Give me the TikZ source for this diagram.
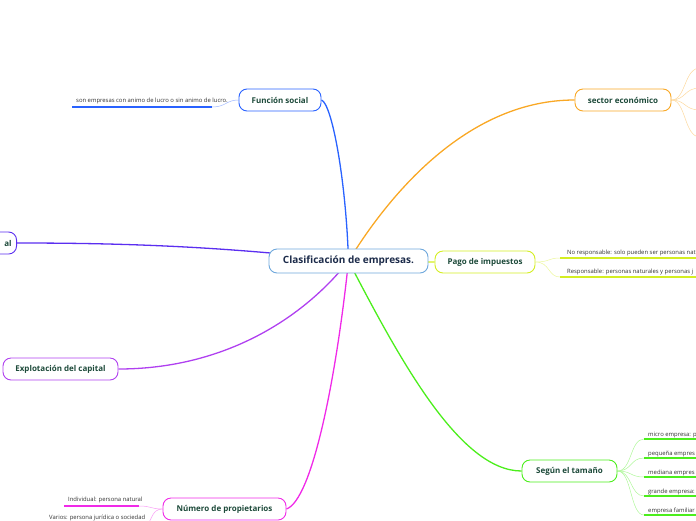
\documentclass[tikz,border=0pt]{standalone}
\usepackage{fontspec}
\setmainfont{Open Sans}
\usetikzlibrary{backgrounds}
\definecolor{ccentral}{HTML}{6FA8DC}
\definecolor{ctext}{HTML}{1C2B4A}
\definecolor{ntext}{HTML}{1D4A3A}
\definecolor{leaftext}{HTML}{333333}
\definecolor{cblue}{HTML}{2962FF}
\definecolor{corange}{HTML}{F9A825}
\definecolor{cyellow}{HTML}{D4EE22}
\definecolor{cviolet}{HTML}{5B2EF0}
\definecolor{cpurple}{HTML}{B040F0}
\definecolor{cmagenta}{HTML}{F02AE8}
\definecolor{cgreen}{HTML}{4CEE1C}
\begin{document}
\begin{tikzpicture}[x=1pt,y=-1pt,
  mainbox/.style={draw=#1, line width=0.9pt, rounded corners=8pt, fill=white,
    minimum height=22pt, inner sep=0pt, font=\bfseries\fontsize{8}{9}\selectfont, text=ntext},
  conn/.style={draw=#1, line width=1.3pt},
  subline/.style={draw=#1!45, line width=0.5pt},
  uline/.style={draw=#1, line width=1.3pt},
  leaf/.style={font=\fontsize{5.9}{6.5}\selectfont, text=leaftext, inner sep=0pt, anchor=base west}]
\useasboundingbox (0,0) rectangle (696,520);
\clip (0,0) rectangle (696,520);

% main nodes
\node[mainbox=ccentral, minimum width=159pt, minimum height=24pt, text=ctext,
      font=\bfseries\fontsize{10}{12}\selectfont] (central) at (348.5,261) {Clasificación de empresas.};
\node[mainbox=cblue, minimum width=82pt] (fs) at (280,100) {Función social};
\node[mainbox=corange, minimum width=96pt] (se) at (623,100) {sector económico};
\node[mainbox=cyellow, minimum width=100pt] (pago) at (485,262) {Pago de impuestos};
\node[mainbox=cviolet, minimum width=77pt, text width=67pt, align=right, anchor=east] (cap) at (17,243) {al};
\node[mainbox=cpurple, minimum width=115pt] (exp) at (60.5,369) {Explotación del capital};
\node[mainbox=cmagenta, minimum width=123pt] (num) at (224.5,509) {Número de propietarios};
\node[mainbox=cgreen, minimum width=95pt] (seg) at (569.5,471) {Según el tamaño};

% leaves
\node[leaf] (fsl) at (76,102.5) {son empresas con animo de lucro o sin animo de lucro.};
\coordinate (fsa) at (72,107); \coordinate (fsb) at (212,107);

\node[leaf] (p1) at (567,254.5) {No responsable: solo pueden ser personas nat};
\node[leaf] (p2) at (567,273.5) {Responsable: personas naturales y personas j};
\coordinate (p1a) at (560,258); \coordinate (p1b) at (700,258);
\coordinate (p2a) at (560,277); \coordinate (p2b) at (700,277);

\node[leaf] (s1) at (648,436) {micro empresa: p};
\node[leaf] (s2) at (648,455) {pequeña empres};
\node[leaf] (s3) at (648,474) {mediana empres};
\node[leaf] (s4) at (648,493) {grande empresa:};
\node[leaf] (s5) at (648,512) {empresa familiar};

\node[leaf] (n1) at (68,501.5) {Individual: persona natural};
\node[leaf] (n2) at (49,519) {Varios: persona jurídica o sociedad};
\coordinate (n1a) at (64,506); \coordinate (n1b) at (139,506);
\coordinate (n2a) at (148,523);

\begin{scope}[on background layer]
% main connectors
\draw[conn=cblue] (central.center) .. controls (346,180) and (332,104) .. (fs.east);
\draw[conn=corange] (central.center) .. controls (392,190) and (470,100) .. (se.west);
\draw[conn=cyellow] (central.center) -- (pago.west);
\draw[conn=cviolet] (cap.east) .. controls (120,243) and (220,246) .. (central.center);
\draw[conn=cpurple] (exp.east) .. controls (220,369) and (300,322) .. (central.center);
\draw[conn=cmagenta] (central.center) .. controls (336,380) and (312,500) .. (num.east);
\draw[conn=cgreen] (central.center) .. controls (400,360) and (460,471) .. (seg.west);

% sub connectors
\draw[subline=cblue] (fs.west) .. controls (226,100) and (226,107) .. (fsb);
\draw[uline=cblue] (fsb) -- (fsa);

\foreach \y in {68,88,110,137}{
  \coordinate (ee) at (700,\y);
  \draw[subline=corange] (se.east) .. controls (686,100) and (684,\y) .. (ee);
}

\draw[subline=cyellow] (pago.east) .. controls (550,262) and (548,258) .. (p1a);
\draw[subline=cyellow] (pago.east) .. controls (550,262) and (548,277) .. (p2a);
\draw[uline=cyellow] (p1a) -- (p1b);
\draw[uline=cyellow] (p2a) -- (p2b);

\foreach \s/\y in {s1/439,s2/458,s3/477,s4/496,s5/515}{
  \coordinate (\s a) at (644,\y);
  \coordinate (\s b) at (700,\y);
  \draw[subline=cgreen] (seg.east) .. controls (632,471) and (630,\y) .. (\s a);
  \draw[uline=cgreen] (\s a) -- (\s b);
}

\draw[subline=cmagenta] (num.west) .. controls (150,509) and (152,506) .. (n1b);
\draw[uline=cmagenta] (n1b) -- (n1a);
\draw[subline=cmagenta] (num.west) .. controls (152,509) and (152,520) .. (n2a);
\end{scope}
\end{tikzpicture}
\end{document}
